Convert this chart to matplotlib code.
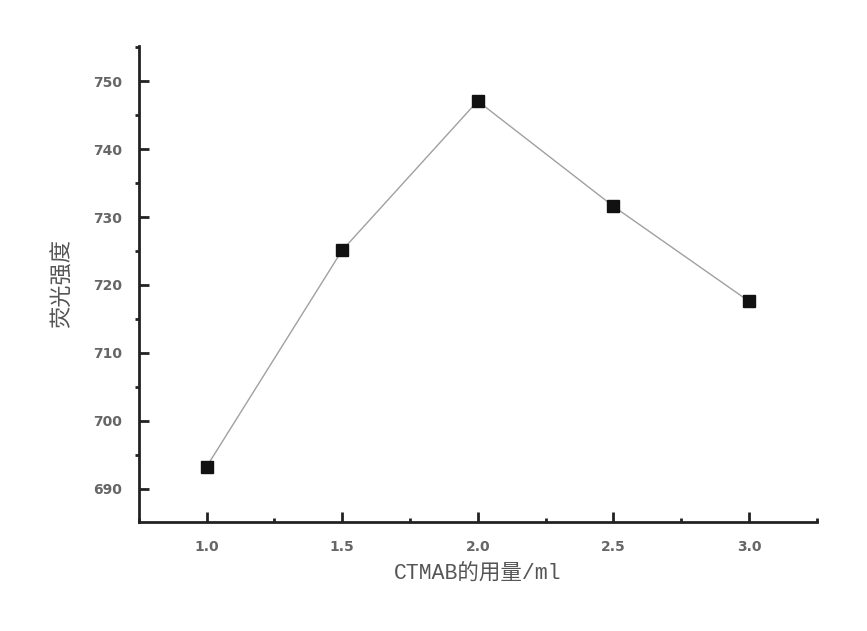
import matplotlib
matplotlib.use("Agg")
import matplotlib.pyplot as plt
from matplotlib.ticker import MultipleLocator

# dosage of CTMAB (ml) vs fluorescence intensity
dosage = [1.0, 1.5, 2.0, 2.5, 3.0]
intensity = [693.2, 725.1, 747.1, 731.6, 717.6]

fig = plt.figure(figsize=(8.67, 6.31), dpi=100)
ax = fig.add_axes([0.160, 0.173, 0.782, 0.754])

ax.plot(dosage, intensity, color="#a0a0a0", lw=1.0, marker="s", ms=8,
        mfc="#111111", mec="#111111")

ax.set_xlim(0.75, 3.25)
ax.set_ylim(685.1, 755.2)
ax.xaxis.set_major_locator(MultipleLocator(0.5))
ax.xaxis.set_minor_locator(MultipleLocator(0.25))
ax.yaxis.set_major_locator(MultipleLocator(10))
ax.yaxis.set_minor_locator(MultipleLocator(5))

for s in ["top", "right"]:
    ax.spines[s].set_visible(False)
for s in ["left", "bottom"]:
    ax.spines[s].set_linewidth(2.0)
    ax.spines[s].set_color("#222222")

ax.tick_params(which="major", direction="in", length=7, width=2, color="#222222",
               labelsize=10, labelcolor="#666666", pad=12)
ax.tick_params(axis="x", which="major", pad=13)
ax.tick_params(which="minor", direction="out", length=3, width=2, color="#222222")
ax.tick_params(axis="x", which="minor", direction="in")
for lab in ax.get_xticklabels() + ax.get_yticklabels():
    lab.set_fontweight("bold")
    lab.set_family(["DejaVu Sans"])

ax.set_xlabel("CTMAB的用量/ml", fontsize=15.5, color="#555555",
              family=["Liberation Mono", "Noto Sans CJK SC"], labelpad=6)
ax.set_ylabel("荧光强度", fontsize=16, color="#555555",
              family=["Noto Sans CJK SC", "DejaVu Sans"], labelpad=14)

fig.savefig("out.png")
